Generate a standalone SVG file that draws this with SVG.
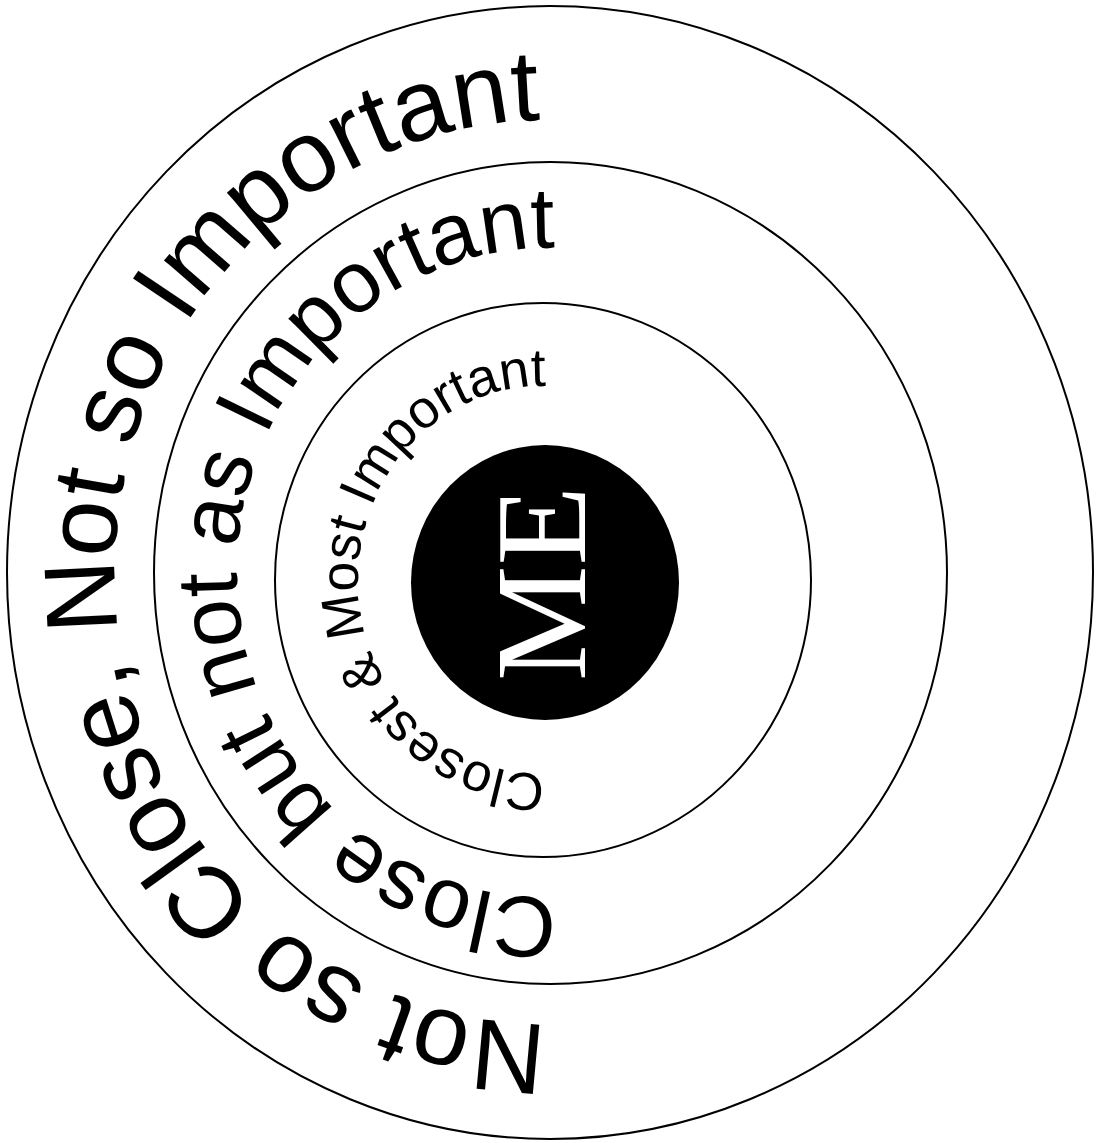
<svg xmlns="http://www.w3.org/2000/svg" width="1098" height="1143" viewBox="0 0 1098 1143">
  <style>
    .ring { fill: none; stroke: #000; stroke-width: 2; }
    .lbl { font-family: "Liberation Sans", Arial, sans-serif; fill: #000; }
  </style>
  <defs>
    <path id="pOuter" d="M985,572 A435,452 0 0 1 115,572 A435,452 0 0 1 985,572"/>
    <path id="pMiddle" d="M863,573 A313,325 0 0 1 237,573 A313,325 0 0 1 863,573"/>
    <path id="pInner" d="M728,580 A185,194 0 0 1 358,580 A185,194 0 0 1 728,580"/>
  </defs>
  <rect width="1098" height="1143" fill="#fff"/>

  <g id="ring-outer">
    <ellipse class="ring" cx="550" cy="572.5" rx="543" ry="566.5"/>
    <text class="lbl" font-size="101"><textPath href="#pOuter" startOffset="699">Not so Close, Not so Important</textPath></text>
  </g>

  <g id="ring-middle">
    <ellipse class="ring" cx="550.5" cy="573" rx="396.5" ry="411"/>
    <text class="lbl" font-size="86.5"><textPath href="#pMiddle" startOffset="493">Close but not as Important</textPath></text>
  </g>

  <g id="ring-inner">
    <ellipse class="ring" cx="543" cy="580" rx="268" ry="277"/>
    <text class="lbl" font-size="53.5"><textPath href="#pInner" startOffset="295">Closest &amp; Most Important</textPath></text>
  </g>

  <g id="me">
    <ellipse cx="545" cy="582.5" rx="134" ry="137.5" fill="#000"/>
    <text transform="translate(585,583.5) rotate(-90)" text-anchor="middle" font-family="Liberation Serif, 'Times New Roman', serif" font-size="130" fill="#fff">ME</text>
  </g>
</svg>
